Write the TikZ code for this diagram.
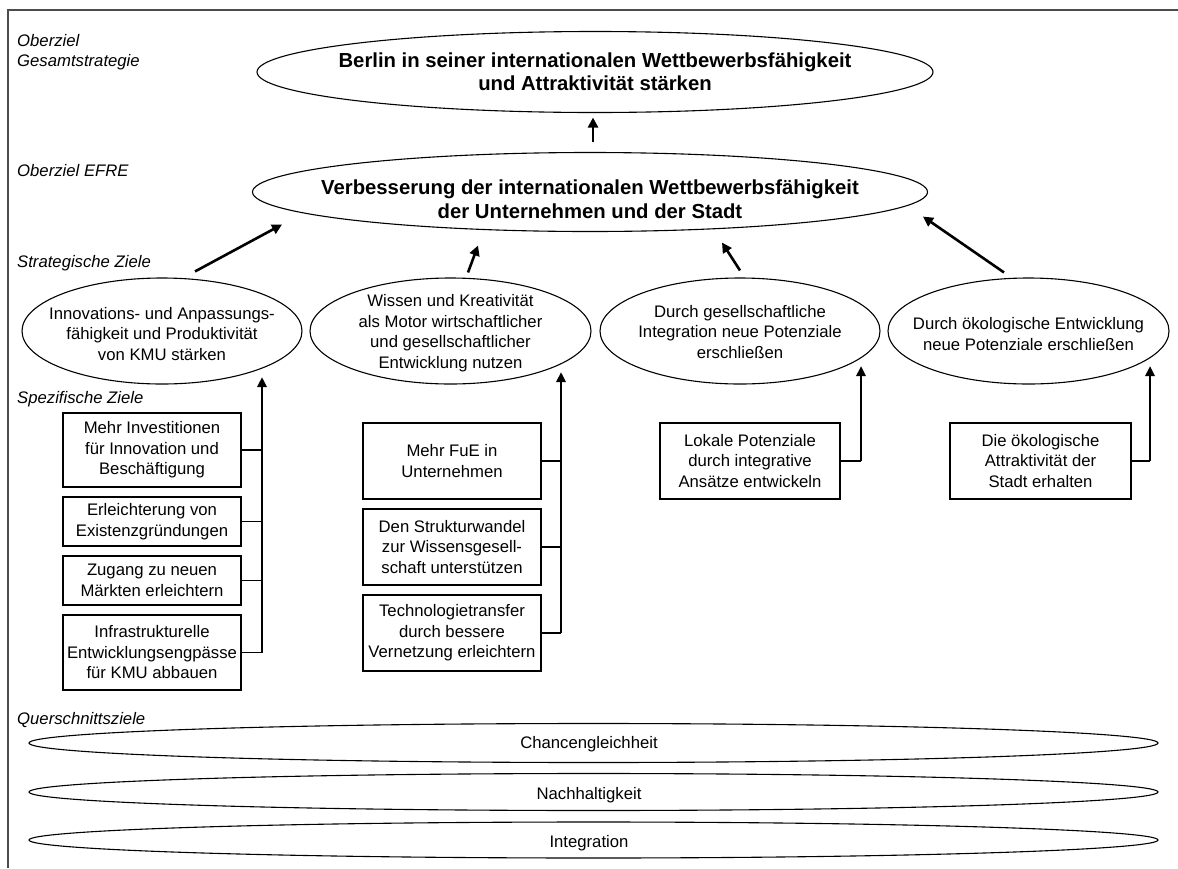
\documentclass[tikz,border=0pt]{standalone}
\usepackage{fontspec}
\setmainfont{Liberation Sans}
\usetikzlibrary{calc,arrows.meta,shapes.geometric}
\begin{document}
\begin{tikzpicture}[x=1pt,y=-1pt,
  txt/.style={inner sep=0pt, align=center, font=\fontsize{16.7}{20.5}\selectfont},
  ttl/.style={inner sep=0pt, align=center, font=\fontsize{20.3}{23}\selectfont\bfseries},
  ell/.style={draw, ellipse, line width=1.1pt, inner sep=0pt},
  box/.style={draw, rectangle, line width=1.2pt, inner sep=0pt, align=center, font=\fontsize{16.7}{20.5}\selectfont},
  lbl/.style={anchor=west, inner sep=0pt, align=left, font=\fontsize{16.7}{20.5}\selectfont\itshape},
  bigarrow/.style={line width=2.6pt, -{Triangle[length=10pt,width=10pt]}},
  vline/.style={line width=2.6pt, -{Triangle[length=10pt,width=9pt]}},
  conn/.style={line width=1.1pt},
]
\useasboundingbox (0,0) rectangle (1178,868);
% frame
\draw[line width=1.2pt, black!70] (8,868) -- (8,10) -- (1178,10);

% labels
\node[lbl] (l1) at (17,52) {Oberziel\\Gesamtstrategie};
\node[lbl] (l2) at (17,171) {Oberziel EFRE};
\node[lbl] (l3) at (17,263) {Strategische Ziele};
\node[lbl] (l4) at (17,399) {Spezifische Ziele};
\node[lbl] (l5) at (17,720) {Querschnittsziele};

% top ellipses
\node[ell, minimum width=676pt, minimum height=81pt] (top) at (595,72) {};
\node[ttl] (topt) at (595,72) {Berlin in seiner internationalen Wettbewerbsfähigkeit\\und Attraktivität stärken};
\node[ell, minimum width=675pt, minimum height=79pt] (e2) at (590,192) {};
\node[ttl, font=\fontsize{20.3}{24}\selectfont\bfseries] (e2t) at (590,199) {Verbesserung der internationalen Wettbewerbsfähigkeit\\der Unternehmen und der Stadt};

% strategic ellipses
\node[ell, minimum width=280pt, minimum height=106pt] (s1) at (162,331) {};
\node[txt] (s1t) at (162,334) {Innovations- und Anpassungs-\\fähigkeit und Produktivität\\von KMU stärken};
\node[ell, minimum width=281pt, minimum height=106pt] (s2) at (450.5,331) {};
\node[txt] (s2t) at (450.5,333) {Wissen und Kreativität\\als Motor wirtschaftlicher\\und gesellschaftlicher\\Entwicklung nutzen};
\node[ell, minimum width=280pt, minimum height=106pt] (s3) at (740,331) {};
\node[txt] (s3t) at (740,332) {Durch gesellschaftliche\\Integration neue Potenziale\\erschließen};
\node[ell, minimum width=281pt, minimum height=106pt] (s4) at (1028.5,331) {};
\node[txt] (s4t) at (1028.5,334) {Durch ökologische Entwicklung\\neue Potenziale erschließen};

% specific boxes
\node[box, minimum width=178pt, minimum height=74pt] (b1) at (152,450) {Mehr Investitionen\\für Innovation und\\Beschäftigung};
\node[box, minimum width=178pt, minimum height=49pt] (b2) at (152,521.5) {Erleichterung von\\Existenzgründungen};
\node[box, minimum width=178pt, minimum height=49pt] (b3) at (152,580.5) {Zugang zu neuen\\Märkten erleichtern};
\node[box, minimum width=178pt, minimum height=75pt] (b4) at (152,652.5) {Infrastrukturelle\\Entwicklungsengpässe\\für KMU abbauen};
\node[box, minimum width=178pt, minimum height=76pt] (b5) at (452,461) {Mehr FuE in\\Unternehmen};
\node[box, minimum width=178pt, minimum height=76pt] (b6) at (452,547) {Den Strukturwandel\\zur Wissensgesell-\\schaft unterstützen};
\node[box, minimum width=178pt, minimum height=76pt] (b7) at (452,633) {Technologietransfer\\durch bessere\\Vernetzung erleichtern};
\node[box, minimum width=180pt, minimum height=76pt] (b8) at (750,461) {Lokale Potenziale\\durch integrative\\Ansätze entwickeln};
\node[box, minimum width=181pt, minimum height=76pt] (b9) at (1040.5,461) {Die ökologische\\Attraktivität der\\Stadt erhalten};

% cross-cutting ellipses
\node[ell, minimum width=1129pt, minimum height=39pt] (q1) at (593.5,743) {};
\node[txt] (q1t) at (589,744) {Chancengleichheit};
\node[ell, minimum width=1129pt, minimum height=37pt] (q2) at (593.5,792) {};
\node[txt] (q2t) at (589,795) {Nachhaltigkeit};
\node[ell, minimum width=1129pt, minimum height=36pt] (q3) at (593.5,840) {};
\node[txt] (q3t) at (589,843) {Integration};

% upper arrows
\draw[bigarrow] ($(e2.north)+(3,-9.5)$) -- ($(top.south)+(-2,4.5)$);
\draw[bigarrow] ($(s1.north)+(33,-6)$) -- ($(e2.south)+(-308,-7.5)$);
\draw[bigarrow] ($(s2.north)+(17.5,-5)$) -- ($(e2.south)+(-112,13.5)$);
\draw[bigarrow] ($(s3.north)+(0,-7)$) -- ($(e2.south)+(132,10.5)$);
\draw[bigarrow] ($(s4.north)+(-24.5,-5)$) -- ($(e2.south)+(333,-15.5)$);

% vertical collector arrows
\coordinate (t1) at (262,377);
\coordinate (t2) at (561,372);
\coordinate (t3) at (861,366);
\coordinate (t4) at (1150,366);
\draw[vline] (b4.east -| t1) -- (t1);
\draw[vline] (b7.east -| t2) -- (t2);
\draw[vline] (b8.east -| t3) -- (t3);
\draw[vline] (b9.east -| t4) -- (t4);
\foreach \b in {b1,b2,b3,b4} \draw[conn] (\b.east) -- (\b.east -| t1);
\foreach \b in {b5,b6,b7} \draw[conn] (\b.east) -- (\b.east -| t2);
\draw[conn] (b8.east) -- (b8.east -| t3);
\draw[conn] (b9.east) -- (b9.east -| t4);
\end{tikzpicture}
\end{document}
